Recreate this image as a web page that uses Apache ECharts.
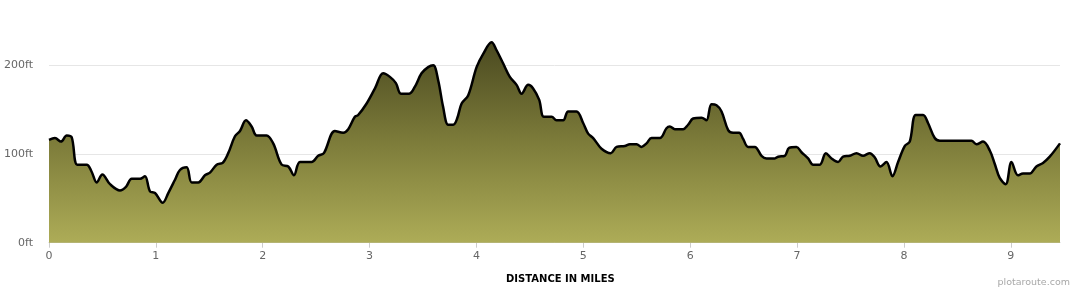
<!DOCTYPE html>
<html>
<head>
<meta charset="utf-8">
<script src="https://cdn.jsdelivr.net/npm/echarts@6/dist/echarts.min.js"></script>
<style>
html,body{margin:0;padding:0;background:#fff;}
#chart{width:1080px;height:290px;}
</style>
</head>
<body>
<div id="chart"></div>
<script>
const miles = [0,0.056,0.112,0.166,0.212,0.265,0.353,0.399,0.446,0.499,0.571,0.664,0.720,0.774,0.851,0.898,0.945,0.992,1.064,1.116,1.179,1.225,1.288,1.335,1.397,1.459,1.506,1.569,1.625,1.677,1.740,1.787,1.843,1.896,1.943,2.036,2.098,2.177,2.239,2.292,2.348,2.457,2.519,2.572,2.675,2.753,2.800,2.862,2.893,2.972,3.050,3.127,3.190,3.246,3.293,3.370,3.424,3.486,3.548,3.595,3.642,3.688,3.735,3.782,3.819,3.861,3.922,4.001,4.063,4.141,4.188,4.250,4.312,4.375,4.422,4.484,4.530,4.587,4.630,4.703,4.749,4.811,4.858,4.936,4.998,5.045,5.092,5.170,5.257,5.311,5.388,5.435,5.498,5.544,5.591,5.638,5.716,5.778,5.809,5.856,5.934,5.980,6.027,6.106,6.152,6.199,6.246,6.293,6.355,6.401,6.457,6.495,6.542,6.604,6.667,6.714,6.791,6.822,6.885,6.925,6.994,7.041,7.103,7.150,7.212,7.269,7.322,7.384,7.430,7.493,7.556,7.617,7.680,7.727,7.780,7.836,7.892,7.945,8.007,8.054,8.110,8.179,8.225,8.288,8.335,8.491,8.631,8.678,8.740,8.803,8.849,8.896,8.952,9.006,9.067,9.114,9.177,9.239,9.301,9.364,9.46];
const elevationFt = [116,118,114,121,119,88,88,80,68,77,66,59,63,72,72,75,58,56,45,56,71,82,85,68,68,76,79,88,90,101,120,126,138,131,121,121,112,88,86,76,91,91,98,101,126,124,128,142,144,157,174,191,187,180,168,168,176,191,198,200,183,153,133,133,140,157,166,198,213,226,217,202,187,178,168,178,174,161,142,142,138,138,148,148,135,123,118,106,101,108,109,111,111,108,112,118,118,129,131,128,128,133,140,141,138,156,155,148,127,124,124,117,108,108,98,95,95,97,98,107,108,102,95,88,88,101,95,91,97,98,101,98,101,96,86,91,75,91,109,114,144,144,135,118,115,115,115,111,114,104,89,73,66,91,76,78,78,86,90,97,112];
const xTicks = [0,1,2,3,4,5,6,7,8,9];
const yTicks = [0,100,200];
const xTitle = 'DISTANCE IN MILES';
const credit = 'plotaroute.com';

const data = miles.map((m, i) => [m, elevationFt[i]]);
const chart = echarts.init(document.getElementById('chart'), null, {renderer: 'canvas'});
chart.setOption({
  animation: false,
  backgroundColor: '#fff',
  grid: {left: 49, right: 20, top: 21, bottom: 47.3},
  title: [
    {text: xTitle, left: 501, top: 269, textStyle: {fontFamily: 'DejaVu Sans', fontWeight: 'bold', fontSize: 10, color: '#000'}},
    {text: credit, right: 5, top: 273, textStyle: {fontFamily: 'DejaVu Sans', fontWeight: 'normal', fontSize: 9.5, color: '#a8a8a8'}}
  ],
  xAxis: {
    type: 'value', min: 0, max: 9.46,
    axisLine: {show: true, lineStyle: {color: '#cccccc', width: 1}},
    axisTick: {show: true, length: 5, lineStyle: {color: '#cccccc'}, customValues: xTicks},
    axisLabel: {customValues: xTicks, color: '#666', fontFamily: 'DejaVu Sans', fontSize: 11, margin: 8},
    splitLine: {show: false}
  },
  yAxis: {
    type: 'value', min: 0, max: 250, interval: 100,
    axisLine: {show: false}, axisTick: {show: false},
    axisLabel: {customValues: yTicks, formatter: v => v + 'ft', color: '#666', fontFamily: 'DejaVu Sans', fontSize: 11, margin: 16},
    splitLine: {show: true, showMaxLine: false, showMinLine: false, lineStyle: {color: '#e6e6e6', width: 1}}
  },
  series: [{
    type: 'line', data: data, smooth: 0.35, symbol: 'none', clip: true,
    lineStyle: {color: '#000', width: 2.5},
    areaStyle: {
      opacity: 1,
      color: new echarts.graphic.LinearGradient(0, 0, 0, 1, [
        {offset: 0, color: '#4a4920'},
        {offset: 0.5, color: '#7d7c3a'},
        {offset: 1, color: '#adac57'}
      ])
    }
  }]
});
</script>
</body>
</html>
